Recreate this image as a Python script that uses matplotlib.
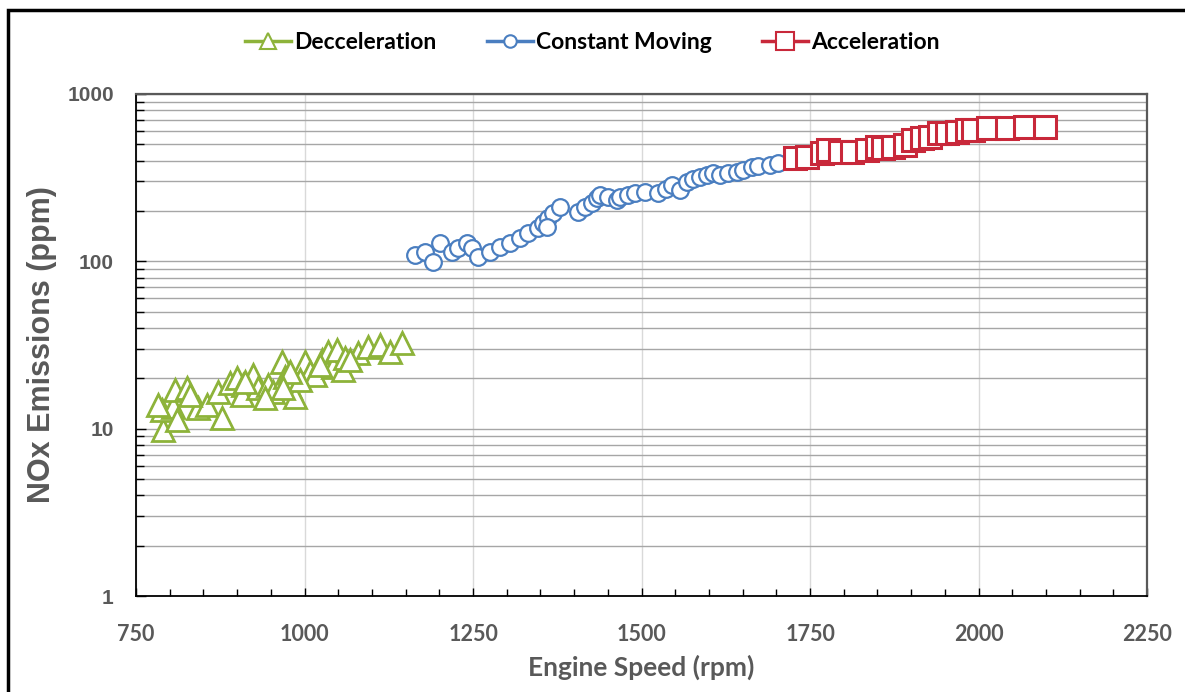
import matplotlib
matplotlib.use('Agg')
import matplotlib.pyplot as plt
from matplotlib.lines import Line2D
from matplotlib.patches import Rectangle
from matplotlib.ticker import LogLocator, NullFormatter, FixedLocator, FuncFormatter

# ---- data ----
decel_rpm = [790, 789, 805, 808, 826, 811, 842, 855, 872, 878, 889, 900, 909, 924,
             907, 931, 946, 953, 967, 971, 978, 986, 1001, 1008, 1016, 1026, 1035,
             1042, 1048, 1057, 1060, 1079, 1094, 1112, 1127, 1145, 993, 978, 941,
             912, 830, 783, 968, 1023, 1067]
decel_nox = [9.8, 12.9, 13.5, 17.0, 17.5, 11.3, 13.3, 13.9, 16.6, 11.6, 18.8, 20.1,
             18.2, 21.0, 15.9, 17.5, 18.2, 16.6, 25.0, 20.4, 17.7, 15.5, 25.0, 21.8,
             21.0, 25.7, 28.7, 23.4, 29.5, 22.4, 26.5, 28.3, 30.9, 31.7, 28.7, 32.6,
             19.6, 21.8, 15.2, 19.0, 15.9, 13.9, 17.5, 24.1, 25.7]

const_rpm = [1164, 1179, 1191, 1201, 1219, 1228, 1241, 1249, 1257, 1275, 1290, 1305,
             1320, 1332, 1346, 1354, 1361, 1369, 1379, 1360, 1406, 1416, 1427, 1434,
             1438, 1450, 1463, 1468, 1480, 1490, 1505, 1524, 1537, 1545, 1557, 1567,
             1576, 1587, 1597, 1606, 1616, 1628, 1642, 1651, 1664, 1673, 1691, 1703]
const_nox = [109, 114, 99, 129, 114, 120, 129, 120, 106, 114, 122, 129, 138, 148,
             158, 170, 182, 195, 210, 160, 198, 210, 223, 239, 250, 243, 233, 243,
             250, 256, 260, 256, 272, 286, 267, 297, 312, 318, 326, 338, 326, 338,
             344, 351, 364, 370, 378, 386]

accel_rpm = [1728, 1745, 1768, 1777, 1794, 1812, 1834, 1849, 1858, 1873, 1891, 1903,
             1916, 1928, 1942, 1953, 1968, 1983, 1992, 2014, 2042, 2069, 2099]
accel_nox = [415, 420, 445, 463, 451, 451, 463, 480, 474, 480, 496, 531, 547, 553,
             585, 585, 592, 609, 609, 627, 627, 638, 638]

x_ticks = [750, 1000, 1250, 1500, 1750, 2000, 2250]
y_ticks = [1, 10, 100, 1000]

green = '#8DB33A'
blue = '#4A7EC0'
red = '#C8283A'
grey_txt = '#595959'

fig = plt.figure(figsize=(11.85, 6.92), dpi=100)
ax = fig.add_axes([0.1148, 0.1387, 0.8532, 0.7255])

ax.plot(decel_rpm, decel_nox, linestyle='none', marker='^', ms=16, mfc='white',
        mec=green, mew=2, zorder=3)
ax.plot(const_rpm, const_nox, linestyle='none', marker='o', ms=12, mfc='white',
        mec=blue, mew=1.6, zorder=3)
ax.plot(accel_rpm, accel_nox, linestyle='none', marker='s', ms=16, mfc='white',
        mec=red, mew=2.2, zorder=3)

ax.set_yscale('log')
ax.set_xlim(750, 2250)
ax.set_ylim(1, 1000)
ax.xaxis.set_major_locator(FixedLocator(x_ticks))
ax.xaxis.set_minor_locator(FixedLocator(range(750, 2251, 50)))
ax.yaxis.set_major_locator(FixedLocator(y_ticks))
ax.yaxis.set_minor_locator(LogLocator(base=10, subs=range(2, 10)))
ax.yaxis.set_major_formatter(FuncFormatter(lambda v, p: '%d' % v))
ax.yaxis.set_minor_formatter(NullFormatter())

ax.grid(True, which='both', axis='y', color='#A6A6A6', lw=1, zorder=0)
ax.grid(True, which='major', axis='x', color='#D9D9D9', lw=1, zorder=0)

ax.tick_params(axis='both', which='both', direction='in', color='black')
ax.tick_params(axis='x', which='major', length=6, width=1, pad=20)
ax.tick_params(axis='x', which='minor', length=5, width=1)
ax.tick_params(axis='y', which='major', length=7, width=1, pad=16)
ax.tick_params(axis='y', which='minor', length=6, width=1)

for lab in ax.get_xticklabels():
    lab.set_fontfamily('Lato')
    lab.set_fontweight('bold')
    lab.set_fontsize(15.5)
    lab.set_color(grey_txt)
for lab in ax.get_yticklabels():
    lab.set_fontfamily('Liberation Sans')
    lab.set_fontweight('bold')
    lab.set_fontsize(15)
    lab.set_color(grey_txt)

for side in ['left', 'bottom']:
    ax.spines[side].set_color('black')
    ax.spines[side].set_linewidth(1.3)
for side in ['top', 'right']:
    ax.spines[side].set_color('#595959')
    ax.spines[side].set_linewidth(1.6)

ax.set_xlabel('Engine Speed (rpm)', fontfamily='Lato', fontweight='bold',
              fontsize=19, color=grey_txt, labelpad=7)
ax.set_ylabel('NOx Emissions (ppm)', fontfamily='Liberation Sans', fontweight='bold',
              fontsize=22, color=grey_txt, labelpad=7)

handles = [
    Line2D([], [], color=green, lw=2.5, marker='^', ms=11, mfc='white', mec=green, mew=1.5),
    Line2D([], [], color=blue, lw=2.5, marker='o', ms=9, mfc='white', mec=blue, mew=1.5),
    Line2D([], [], color=red, lw=2.5, marker='s', ms=13, mfc='white', mec=red, mew=1.5),
]
fig.legend(handles, ['Decceleration', 'Constant Moving', 'Acceleration'],
           loc='center', bbox_to_anchor=(0.5, 0.939), ncol=3, frameon=False,
           handlelength=2.0, handletextpad=0.15, columnspacing=2.2,
           prop={'family': 'Lato', 'weight': 'bold', 'size': 16.5})

fig.patches.append(Rectangle((8 / 1185, -0.05), 1.2, 1.05 - 10 / 692,
                             transform=fig.transFigure, fill=False,
                             edgecolor='black', lw=2.5))

fig.savefig('out.png', dpi=100)
